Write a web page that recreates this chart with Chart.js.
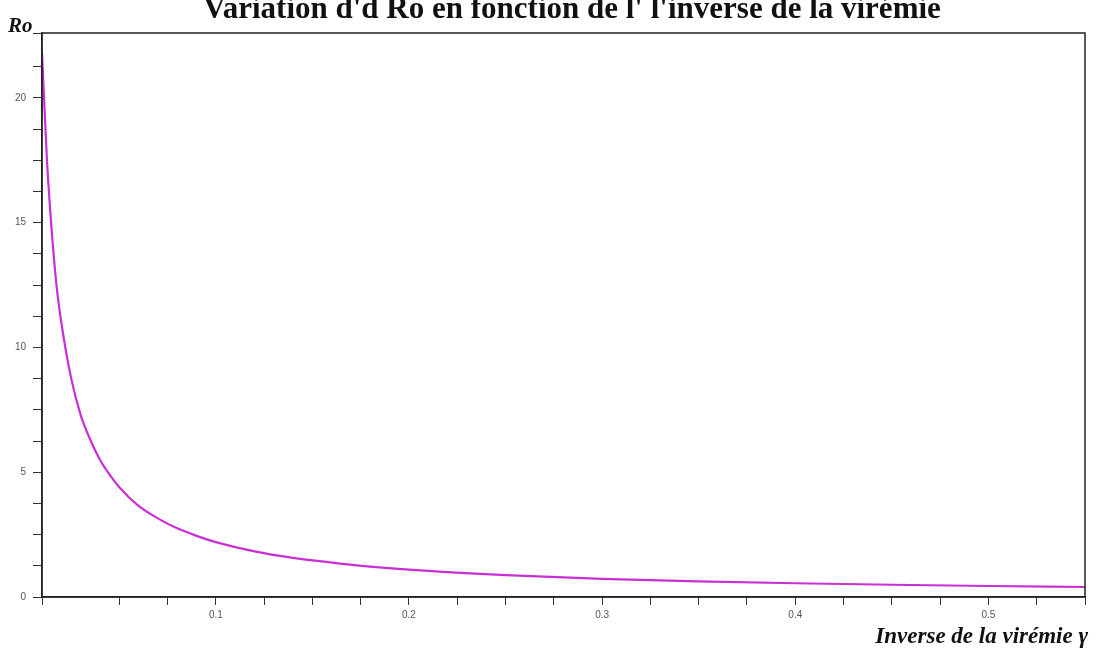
<!DOCTYPE html>
<html>
<head>
<meta charset="utf-8">
<script src="https://cdn.jsdelivr.net/npm/chart.js@4/dist/chart.umd.min.js"></script>
<style>
  html, body { margin: 0; padding: 0; background: #fff; }
  #wrap { position: relative; width: 1097px; height: 651px; }
</style>
</head>
<body>
<div id="wrap"><canvas id="chart" width="1097" height="651"></canvas></div>
<script>
// values
const gammaValues = [0.01, 0.0125, 0.015, 0.0175, 0.02, 0.025, 0.03, 0.035, 0.04, 0.045, 0.05, 0.06, 0.07, 0.08, 0.09, 0.1, 0.12, 0.14, 0.16, 0.18, 0.2, 0.25, 0.3, 0.35, 0.4, 0.45, 0.5, 0.55];
const roValues = [21.8, 17.6, 14.7, 12.5, 11.0, 8.8, 7.3, 6.3, 5.5, 4.9, 4.4, 3.65, 3.15, 2.75, 2.45, 2.2, 1.83, 1.57, 1.38, 1.22, 1.1, 0.88, 0.73, 0.63, 0.55, 0.49, 0.44, 0.40];
const xLabels = [0.1, 0.2, 0.3, 0.4, 0.5];
const yLabels = [0, 5, 10, 15, 20];

const titleText = "Variation d'd Ro en fonction de l' l'inverse de la virémie";
const yTitle = 'Ro';
const xTitle = 'Inverse de la virémie γ';

const points = gammaValues.map((g, i) => ({ x: g, y: roValues[i] }));

const isLabel = (list, v) => list.some(l => Math.abs(l - v) < 1e-6);

const textPlugin = {
    id: 'texts',
    afterDraw(chart) {
        const ctx = chart.ctx;
        const area = chart.chartArea;
        ctx.save();
        // box around the plot
        ctx.strokeStyle = '#222';
        ctx.lineWidth = 1.5;
        ctx.strokeRect(area.left, area.top, area.right - area.left, area.bottom - area.top);

        ctx.fillStyle = '#111';
        ctx.font = 'bold 31px "Liberation Serif", "DejaVu Serif", serif';
        ctx.textAlign = 'center';
        ctx.textBaseline = 'alphabetic';
        ctx.fillText(titleText, 572, 18);

        ctx.font = 'italic bold 21px "Liberation Serif", "DejaVu Serif", serif';
        ctx.textAlign = 'left';
        ctx.fillText(yTitle, 8, 32);

        ctx.font = 'italic bold 23px "Liberation Serif", "DejaVu Serif", serif';
        ctx.textAlign = 'right';
        ctx.fillText(xTitle, 1088, 643);
        ctx.restore();
    }
};

const ctx = document.getElementById('chart').getContext('2d');
_ = new Chart(ctx, {
    type: 'line',
    data: {
        datasets: [{
            data: points,
            borderColor: '#c92fd6',
            borderWidth: 2.2,
            pointRadius: 0,
            fill: false,
            cubicInterpolationMode: 'monotone'
        }]
    },
    options: {
        responsive: false,
        animation: false,
        layout: { padding: { left: 0, right: 12, top: 33, bottom: 0 } },
        plugins: {
            legend: { display: false },
            title: { display: false },
            tooltip: { enabled: false }
        },
        scales: {
            x: {
                type: 'linear',
                min: 0.01,
                max: 0.55,
                afterFit: scale => { scale.height = 54; },
                border: { display: true, color: '#222', width: 1.5 },
                grid: { display: true, drawOnChartArea: false, drawTicks: true, tickLength: 8, color: '#333', tickColor: '#333' },
                ticks: {
                    stepSize: 0.025,
                    autoSkip: false,
                    maxRotation: 0,
                    padding: 4,
                    color: '#555',
                    font: { family: '"Liberation Sans", Arial, sans-serif', size: 10 },
                    callback: v => isLabel(xLabels, v) ? v.toFixed(1) : ''
                }
            },
            y: {
                min: 0,
                max: 22.6,
                afterFit: scale => { scale.width = 42; },
                border: { display: true, color: '#222', width: 1.5 },
                grid: { display: true, drawOnChartArea: false, drawTicks: true, tickLength: 9, color: '#333', tickColor: '#333' },
                ticks: {
                    stepSize: 1.25,
                    autoSkip: false,
                    padding: 7,
                    color: '#555',
                    font: { family: '"Liberation Sans", Arial, sans-serif', size: 10 },
                    callback: v => isLabel(yLabels, v) ? String(v) : ''
                }
            }
        }
    },
    plugins: [textPlugin]
});
</script>
</body>
</html>
